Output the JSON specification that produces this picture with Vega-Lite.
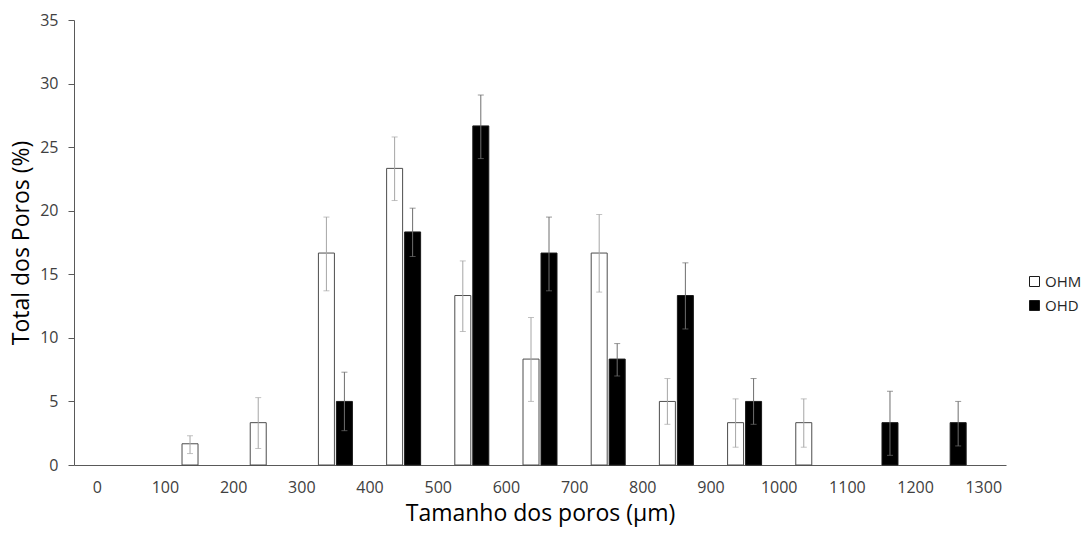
{
  "$schema": "https://vega.github.io/schema/vega-lite/v6.json",
  "autosize": {"type": "none"},
  "width": 932,
  "height": 445,
  "padding": {"left": 74, "top": 20, "right": 83, "bottom": 69},
  "background": "white",
  "config": {
    "font": "Open Sans",
    "view": {"stroke": null},
    "axis": {"grid": false, "domainColor": "#595959", "tickColor": "#595959", "labelColor": "#404040", "titleColor": "#000000", "labelFont": "Open Sans", "titleFont": "Open Sans", "titleFontWeight": "normal"}
  },
  "data": {
    "values": [
      {"mid": 150, "serie": "OHM", "valor": 1.67, "lo": 0.9, "hi": 2.3},
      {"mid": 250, "serie": "OHM", "valor": 3.33, "lo": 1.3, "hi": 5.3},
      {"mid": 350, "serie": "OHM", "valor": 16.67, "lo": 13.7, "hi": 19.5},
      {"mid": 350, "serie": "OHD", "valor": 5.0, "lo": 2.7, "hi": 7.3},
      {"mid": 450, "serie": "OHM", "valor": 23.33, "lo": 20.8, "hi": 25.8},
      {"mid": 450, "serie": "OHD", "valor": 18.33, "lo": 16.4, "hi": 20.2},
      {"mid": 550, "serie": "OHM", "valor": 13.33, "lo": 10.5, "hi": 16.05},
      {"mid": 550, "serie": "OHD", "valor": 26.67, "lo": 24.1, "hi": 29.1},
      {"mid": 650, "serie": "OHM", "valor": 8.33, "lo": 5.0, "hi": 11.6},
      {"mid": 650, "serie": "OHD", "valor": 16.67, "lo": 13.7, "hi": 19.5},
      {"mid": 750, "serie": "OHM", "valor": 16.67, "lo": 13.6, "hi": 19.7},
      {"mid": 750, "serie": "OHD", "valor": 8.33, "lo": 7.0, "hi": 9.55},
      {"mid": 850, "serie": "OHM", "valor": 5.0, "lo": 3.2, "hi": 6.8},
      {"mid": 850, "serie": "OHD", "valor": 13.33, "lo": 10.7, "hi": 15.9},
      {"mid": 950, "serie": "OHM", "valor": 3.33, "lo": 1.4, "hi": 5.2},
      {"mid": 950, "serie": "OHD", "valor": 5.0, "lo": 3.2, "hi": 6.8},
      {"mid": 1050, "serie": "OHM", "valor": 3.33, "lo": 1.4, "hi": 5.2},
      {"mid": 1150, "serie": "OHD", "valor": 3.33, "lo": 0.76, "hi": 5.8},
      {"mid": 1250, "serie": "OHD", "valor": 3.33, "lo": 1.5, "hi": 5.0}
    ]
  },
  "encoding": {
    "x": {
      "field": "mid", "type": "quantitative",
      "scale": {"domain": [-26, 1326], "nice": false, "zero": false},
      "axis": {"values": [0,100,200,300,400,500,600,700,800,900,1000,1100,1200,1300], "format": "d", "ticks": false, "labelPadding": 14, "labelFontSize": 16, "title": "Tamanho dos poros (µm)", "titleFontSize": 23, "titlePadding": 7, "labelFlush": false}
    }
  },
  "layer": [
    {
      "transform": [{"filter": "datum.serie === 'OHM'"}],
      "layer": [
        {
          "mark": {"type": "bar", "width": 16, "xOffset": -9, "stroke": "#4d4d4d", "strokeWidth": 1},
          "encoding": {
            "y": {"field": "valor", "type": "quantitative", "stack": null, "scale": {"domain": [0, 35], "nice": false}, "axis": {"values": [0,5,10,15,20,25,30,35], "tickSize": 6, "labelPadding": 10, "labelFontSize": 16, "title": "Total dos Poros (%)", "titleFontSize": 23, "titlePadding": 6}},
            "fill": {"field": "serie", "type": "nominal", "scale": {"domain": ["OHM", "OHD"], "range": ["#ffffff", "#000000"]},
              "legend": {"title": null, "orient": "none", "legendX": 953, "legendY": 254, "symbolType": "square", "symbolSize": 100, "symbolStrokeColor": "#000000", "symbolStrokeWidth": 1, "labelFontSize": 15, "labelColor": "#262626", "labelFont": "Open Sans", "rowPadding": 8, "padding": 0, "labelOffset": 3}}
          }
        },
        {
          "mark": {"type": "rule", "strokeWidth": 1, "xOffset": -9, "color": "#a6a6a6"},
          "encoding": {"y": {"field": "lo", "type": "quantitative"}, "y2": {"field": "hi"}}
        },
        {
          "mark": {"type": "tick", "orient": "horizontal", "size": 6, "thickness": 1, "xOffset": -9, "color": "#a6a6a6"},
          "encoding": {"y": {"field": "lo", "type": "quantitative"}}
        },
        {
          "mark": {"type": "tick", "orient": "horizontal", "size": 6, "thickness": 1, "xOffset": -9, "color": "#a6a6a6"},
          "encoding": {"y": {"field": "hi", "type": "quantitative"}}
        }
      ]
    },
    {
      "transform": [{"filter": "datum.serie === 'OHD'"}],
      "layer": [
        {
          "mark": {"type": "bar", "width": 16, "xOffset": 9, "stroke": "#1a1a1a", "strokeWidth": 1},
          "encoding": {
            "y": {"field": "valor", "type": "quantitative", "stack": null},
            "fill": {"field": "serie", "type": "nominal"}
          }
        },
        {
          "mark": {"type": "rule", "strokeWidth": 1, "xOffset": 9, "color": "#6e6e6e"},
          "encoding": {"y": {"field": "lo", "type": "quantitative"}, "y2": {"field": "hi"}}
        },
        {
          "mark": {"type": "tick", "orient": "horizontal", "size": 6, "thickness": 1, "xOffset": 9, "color": "#6e6e6e"},
          "encoding": {"y": {"field": "lo", "type": "quantitative"}}
        },
        {
          "mark": {"type": "tick", "orient": "horizontal", "size": 6, "thickness": 1, "xOffset": 9, "color": "#6e6e6e"},
          "encoding": {"y": {"field": "hi", "type": "quantitative"}}
        }
      ]
    }
  ]
}
